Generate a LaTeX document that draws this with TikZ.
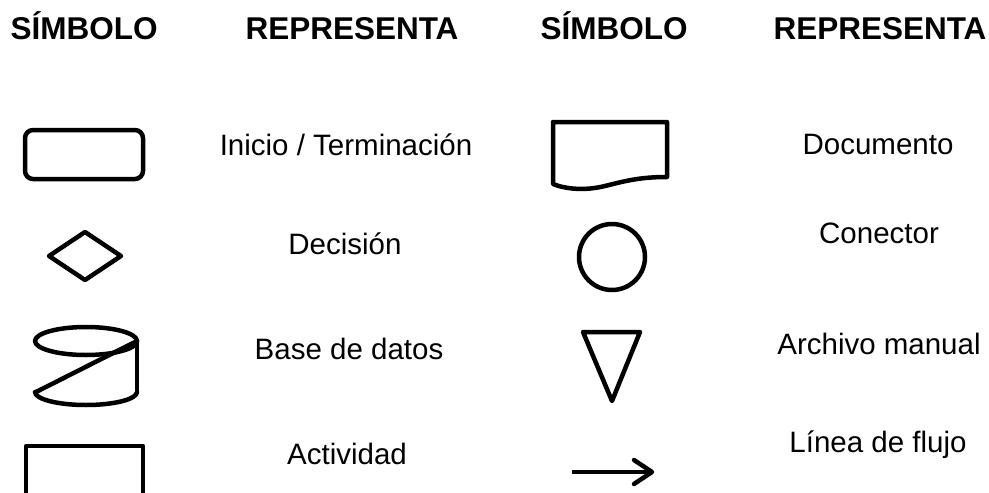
\documentclass[tikz,border=0pt]{standalone}
\usepackage{fontspec}
\setmainfont{Liberation Sans}
\begin{document}
\begin{tikzpicture}[x=1pt,y=-1pt,
  shp/.style={line width=4.5pt, line join=round, line cap=round},
  head/.style={font=\bfseries\fontsize{31.5}{36}\selectfont, anchor=base, inner sep=0},
  lbl/.style={font=\fontsize{29.5}{35}\selectfont, anchor=base, inner sep=0}]
\useasboundingbox (0,0) rectangle (989,493);
\clip (0,0) rectangle (989,493);
% headings
\node[head] (h1) at (84,39) {SÍMBOLO};
\node[head] (h2) at (352,39) {REPRESENTA};
\node[head] (h3) at (614,39) {SÍMBOLO};
\node[head] (h4) at (880,39) {REPRESENTA};
% labels
\node[lbl] (t1) at (346,155) {Inicio / Terminación};
\node[lbl] (t2) at (345,254) {Decisión};
\node[lbl] (t3) at (349,359) {Base de datos};
\node[lbl] (t4) at (347,464) {Actividad};
\node[lbl] (t5) at (878,154) {Documento};
\node[lbl] (t6) at (879,243) {Conector};
\node[lbl] (t7) at (879,354) {Archivo manual};
\node[lbl] (t8) at (878,452) {Línea de flujo};
% rounded rectangle
\draw[shp, rounded corners=8pt] (25,130) rectangle (143,179);
% diamond
\draw[shp] (49,256) -- (85,232) -- (121,256) -- (85,280) -- cycle;
% database
\draw[shp] (86,341) ellipse [x radius=51, y radius=14];
\draw[shp] (137,341) -- (137,392);
\draw[shp] (35,392) arc [start angle=180, end angle=360, x radius=51, y radius=-13];
\draw[shp] (36,392) -- (137,341);
% activity rectangle (cut by frame)
\draw[shp] (26,505) -- (26,446) -- (143,446) -- (143,505);
% document
\draw[shp] (553,184) -- (553,122) -- (667,122) -- (667,177)
  .. controls (640,177) and (625,181) .. (605,186)
  .. controls (585,191) and (565,189) .. cycle;
% connector
\draw[shp] (612,257) circle [radius=33];
% manual file
\draw[shp] (583,332) -- (640,332) -- (612,401) -- cycle;
% flow line
\coordinate (a1) at (572,472);
\coordinate (a2) at (652,472);
\draw[shp, line cap=butt] (a1) -- (a2);
\draw[shp] (634,460) -- (a2) -- (634,484);
\end{tikzpicture}
\end{document}
